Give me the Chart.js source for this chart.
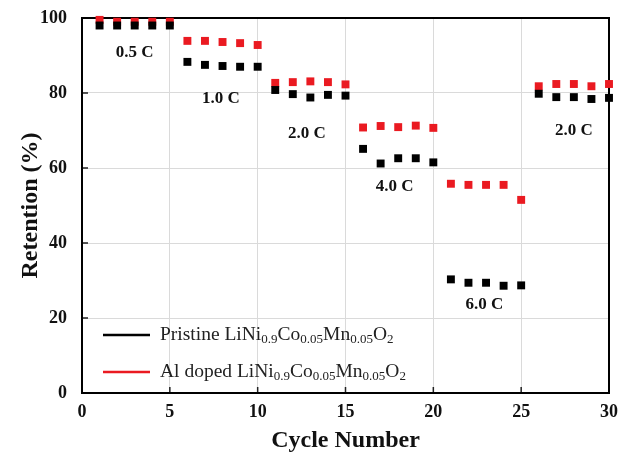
<!DOCTYPE html>
<html>
<head>
<meta charset="utf-8">
<script src="https://cdn.jsdelivr.net/npm/chart.js@4"></script>
<style>
  html, body { margin: 0; padding: 0; background: #fff; }
  #wrap { width: 619px; height: 455px; position: relative; }
</style>
</head>
<body>
<div id="wrap"><canvas id="output"></canvas></div>
<script>
// cycle numbers and retention values
const cycles = [1, 2, 3, 4, 5, 6, 7, 8, 9, 10, 11, 12, 13, 14, 15, 16, 17, 18, 19, 20, 21, 22, 23, 24, 25, 26, 27, 28, 29, 30]
const pristine = [98, 98, 98, 98, 98, 88.3, 87.5, 87.2, 87, 87, 80.8, 79.7, 78.8, 79.5, 79.3, 65.1, 61.2, 62.6, 62.6, 61.5, 30.3, 29.4, 29.4, 28.6, 28.7, 79.8, 78.9, 78.9, 78.4, 78.7]
const alDoped = [99.5, 99, 99, 99, 99, 93.9, 93.9, 93.6, 93.3, 92.8, 82.7, 82.9, 83.1, 82.9, 82.3, 70.8, 71.2, 70.9, 71.3, 70.7, 55.8, 55.5, 55.5, 55.5, 51.5, 81.8, 82.4, 82.4, 81.8, 82.4]
const xTicks = [0, 5, 10, 15, 20, 25, 30]
const yTicks = [0, 20, 40, 60, 80, 100]
const rateLabels = ['0.5 C', '1.0 C', '2.0 C', '4.0 C', '6.0 C', '2.0 C']
const rateLabelAt = [[3, 90.7], [7.9, 78.4], [12.8, 69.3], [17.8, 55], [22.9, 23.5], [28, 69.9]]
const legendNames = [
  ['Pristine LiNi', '0.9', 'Co', '0.05', 'Mn', '0.05', 'O', '2'],
  ['Al doped LiNi', '0.9', 'Co', '0.05', 'Mn', '0.05', 'O', '2']
]

const BLACK = '#000000'
const RED = '#ea1a21'
const SERIF = '"Liberation Serif", "Times New Roman", serif'

function points (ys) {
  return cycles.map(function (c, i) { return {x: c, y: ys[i]} })
}

// text with alternating normal / subscript parts
function drawRich (ctx, parts, x, y) {
  let cx = x
  parts.forEach(function (p, i) {
    if (i % 2 === 0) {
      ctx.font = '19.5px ' + SERIF
      ctx.fillText(p, cx, y)
    } else {
      ctx.font = '13px ' + SERIF
      ctx.fillText(p, cx, y + 5)
    }
    cx += ctx.measureText(p).width
  })
}

const decorations = {
  id: 'decorations',
  beforeDatasetsDraw (chart) {
    const ctx = chart.ctx
    const a = chart.chartArea
    const xs = chart.scales.x
    const ys = chart.scales.y
    ctx.save()
    ctx.strokeStyle = '#222'
    ctx.lineWidth = 1.5
    // inward ticks
    ctx.beginPath()
    xTicks.forEach(function (t) {
      const px = xs.getPixelForValue(t)
      ctx.moveTo(px, a.bottom)
      ctx.lineTo(px, a.bottom - 6)
    })
    yTicks.forEach(function (t) {
      const py = ys.getPixelForValue(t)
      ctx.moveTo(a.left, py)
      ctx.lineTo(a.left + 6, py)
    })
    ctx.stroke()
    // frame
    ctx.strokeStyle = BLACK
    ctx.lineWidth = 2
    ctx.strokeRect(a.left, a.top, a.right - a.left, a.bottom - a.top)
    ctx.restore()
  },
  afterDatasetsDraw (chart) {
    const ctx = chart.ctx
    const xs = chart.scales.x
    const ys = chart.scales.y
    ctx.save()
    // C-rate labels
    ctx.fillStyle = '#111'
    ctx.font = 'bold 17px ' + SERIF
    ctx.textAlign = 'center'
    ctx.textBaseline = 'middle'
    rateLabels.forEach(function (lab, i) {
      ctx.fillText(lab, xs.getPixelForValue(rateLabelAt[i][0]), ys.getPixelForValue(rateLabelAt[i][1]))
    })
    // legend
    const colors = [BLACK, RED]
    const a = chart.chartArea
    ctx.textAlign = 'left'
    ctx.textBaseline = 'middle'
    legendNames.forEach(function (parts, i) {
      const y = a.bottom - 58 + i * 37
      ctx.strokeStyle = colors[i]
      ctx.lineWidth = 2.5
      ctx.beginPath()
      ctx.moveTo(a.left + 21, y)
      ctx.lineTo(a.left + 68, y)
      ctx.stroke()
      ctx.fillStyle = '#222'
      drawRich(ctx, parts, a.left + 78, y)
    })
    ctx.restore()
  }
}

const ctx = document.getElementById('output').getContext('2d')
const myChart = new Chart(ctx, {
  type: 'scatter',
  data: {
    datasets: [
      {
        label: 'Pristine',
        data: points(pristine),
        pointStyle: 'rect',
        pointRadius: 5.6,
        backgroundColor: BLACK,
        borderColor: BLACK,
        borderWidth: 0,
        clip: false
      },
      {
        label: 'Al doped',
        data: points(alDoped),
        pointStyle: 'rect',
        pointRadius: 5.6,
        backgroundColor: RED,
        borderColor: RED,
        borderWidth: 0,
        clip: false
      }
    ]
  },
  options: {
    responsive: true,
    maintainAspectRatio: false,
    animation: false,
    layout: {padding: {top: 18, right: 10, left: 0, bottom: 0}},
    plugins: {
      legend: {display: false},
      tooltip: {enabled: false}
    },
    scales: {
      x: {
        type: 'linear',
        min: 0,
        max: 30,
        afterBuildTicks: function (scale) {
          scale.ticks = xTicks.map(function (v) { return {value: v} })
        },
        afterFit: function (scale) {
          scale.height = 62
          scale.paddingLeft = 0
          scale.paddingRight = 0
        },
        grid: {color: '#dadada', lineWidth: 1, drawTicks: false},
        border: {display: false},
        ticks: {
          color: '#111',
          padding: 9,
          font: {family: SERIF, size: 18, weight: 'bold'}
        },
        title: {
          display: true,
          text: 'Cycle Number',
          color: '#111',
          padding: {top: 0, bottom: 0},
          font: {family: SERIF, size: 24, weight: 'bold'}
        }
      },
      y: {
        type: 'linear',
        min: 0,
        max: 100,
        afterBuildTicks: function (scale) {
          scale.ticks = yTicks.map(function (v) { return {value: v} })
        },
        afterFit: function (scale) {
          scale.width = 82
          scale.paddingTop = 0
          scale.paddingBottom = 0
        },
        grid: {color: '#dadada', lineWidth: 1, drawTicks: false},
        border: {display: false},
        ticks: {
          color: '#111',
          padding: 15,
          font: {family: SERIF, size: 18, weight: 'bold'}
        },
        title: {
          display: true,
          text: 'Retention (%)',
          color: '#111',
          padding: {top: 16, bottom: 0},
          font: {family: SERIF, size: 24, weight: 'bold'}
        }
      }
    }
  },
  plugins: [decorations]
})
</script>
</body>
</html>
